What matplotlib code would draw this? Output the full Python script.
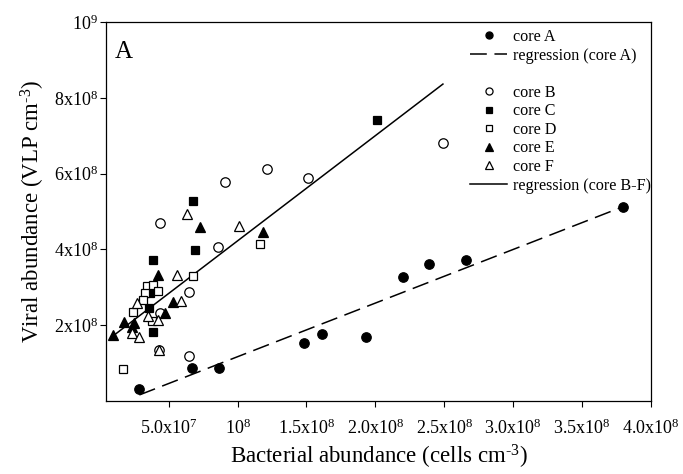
import matplotlib
matplotlib.use("Agg")
import matplotlib.pyplot as plt
import numpy as np
from matplotlib.lines import Line2D

plt.rcParams["font.family"] = ["Liberation Serif", "DejaVu Serif"]
plt.rcParams["mathtext.fontset"] = "custom"
plt.rcParams["mathtext.rm"] = "Liberation Serif"
plt.rcParams["mathtext.it"] = "Liberation Serif:italic"

# bacterial abundance in 1e7 cells cm-3, viral abundance in 1e8 VLP cm-3
core_a_x = [2.87, 6.69, 8.65, 14.8, 16.1, 19.3, 22.0, 23.9, 26.6, 38.0]
core_a_y = [0.31, 0.87, 0.87, 1.54, 1.78, 1.69, 3.26, 3.62, 3.72, 5.13]

core_b_x = [9.09, 12.15, 15.09, 24.9, 4.37, 8.55, 6.5, 4.37, 4.27, 6.45]
core_b_y = [5.77, 6.12, 5.88, 6.82, 4.69, 4.06, 2.88, 2.33, 1.35, 1.19]

core_c_x = [20.1, 6.79, 6.91, 3.88, 3.59, 3.84, 3.65]
core_c_y = [7.42, 5.29, 3.99, 3.72, 2.45, 1.83, 2.85]

core_d_x = [11.63, 6.79, 3.40, 3.88, 4.20, 3.28, 3.16, 2.43, 3.77, 1.71]
core_d_y = [4.14, 3.30, 3.03, 3.06, 2.91, 2.86, 2.67, 2.36, 2.11, 0.84]

core_e_x = [7.27, 11.87, 4.22, 5.29, 4.73, 1.76, 2.48, 2.31, 0.98]
core_e_y = [4.60, 4.45, 3.32, 2.62, 2.31, 2.09, 2.06, 1.94, 1.74]

core_f_x = [6.31, 10.08, 5.62, 5.87, 2.68, 3.52, 4.25, 2.31, 2.87, 4.27]
core_f_y = [4.93, 4.62, 3.33, 2.65, 2.58, 2.25, 2.14, 1.80, 1.70, 1.35]

# regression fits: y = slope * x + intercept (same units as above)
reg_a_slope, reg_a_icpt, reg_a_range = 0.1415, -0.246, (2.87, 38.0)
reg_bf_slope, reg_bf_icpt, reg_bf_range = 0.2776, 1.45, (0.98, 24.9)

x_ticks = [5, 10, 15, 20, 25, 30, 35, 40]
x_tick_labels = ["5.0x10$^7$", "10$^8$", "1.5x10$^8$", "2.0x10$^8$",
                 "2.5x10$^8$", "3.0x10$^8$", "3.5x10$^8$", "4.0x10$^8$"]
y_ticks = [2, 4, 6, 8, 10]
y_tick_labels = ["2x10$^8$", "4x10$^8$", "6x10$^8$", "8x10$^8$", "10$^9$"]

fig = plt.figure(figsize=(6.83, 4.74), dpi=100)
ax = fig.add_axes([106 / 683, 1 - 401 / 474, 545 / 683, 379 / 474])

ms = 6.8
common = dict(linestyle="none", markeredgecolor="black", markeredgewidth=0.9)

xa = np.array(reg_a_range)
ax.plot(xa, reg_a_slope * xa + reg_a_icpt, color="black", lw=1.1,
        dashes=(11, 5), label="regression (core A)")
xb = np.array(reg_bf_range)
ax.plot(xb, reg_bf_slope * xb + reg_bf_icpt, color="black", lw=1.1,
        label="regression (core B-F)")

ax.plot(core_a_x, core_a_y, marker="o", ms=ms, color="black", label="core A", **common)
ax.plot(core_b_x, core_b_y, marker="o", ms=ms, mfc="white", label="core B", **common)
ax.plot(core_c_x, core_c_y, marker="s", ms=ms - 0.8, color="black", label="core C", **common)
ax.plot(core_d_x, core_d_y, marker="s", ms=ms - 0.8, mfc="white", label="core D", **common)
ax.plot(core_e_x, core_e_y, marker="^", ms=ms + 0.4, color="black", label="core E", **common)
ax.plot(core_f_x, core_f_y, marker="^", ms=ms + 0.4, mfc="white", label="core F", **common)

ax.set_xlim(0.45, 40)
ax.set_ylim(0, 10)
ax.set_xticks(x_ticks)
ax.set_xticklabels(x_tick_labels)
ax.set_yticks(y_ticks)
ax.set_yticklabels(y_tick_labels)
ax.tick_params(direction="out", length=4, width=0.8, labelsize=13)
ax.tick_params(axis="x", pad=9)
ax.tick_params(axis="y", pad=2)
for sp in ax.spines.values():
    sp.set_linewidth(0.9)

ax.set_xlabel("Bacterial abundance (cells cm$^{\\text{-}3}$)", fontsize=16.5, labelpad=3)
ax.set_ylabel("Viral abundance (VLP cm$^{\\text{-}3}$)", fontsize=16.5, labelpad=5)

ax.text(0.016, 0.95, "A", transform=ax.transAxes, fontsize=18, va="top", ha="left")

# legend with an empty row between the core A group and the rest
handles, labels = ax.get_legend_handles_labels()
lookup = dict(zip(labels, handles))
blank = Line2D([], [], linestyle="none")
order = ["core A", "regression (core A)", None, "core B", "core C", "core D",
         "core E", "core F", "regression (core B-F)"]
leg_handles = [lookup[k] if k else blank for k in order]
leg_labels = [k if k else " " for k in order]
ax.legend(leg_handles, leg_labels, loc="upper left",
          bbox_to_anchor=(470 / 683, 1 - 29 / 474), bbox_transform=fig.transFigure,
          frameon=False, fontsize=11.6, handlelength=2.3, handletextpad=0.37,
          labelspacing=0.16, borderpad=0, borderaxespad=0, markerscale=0.75)

fig.savefig("out.png", dpi=100)
